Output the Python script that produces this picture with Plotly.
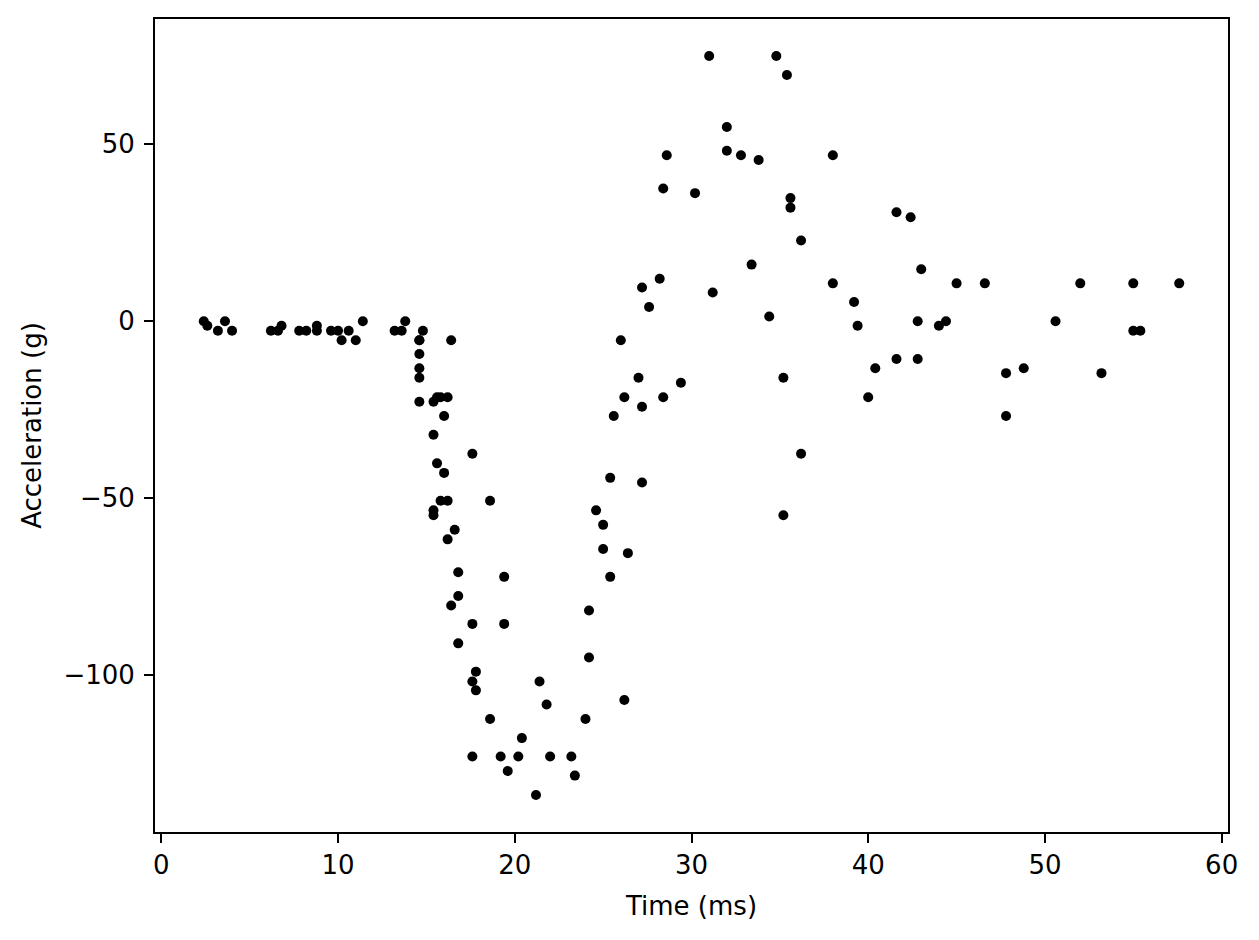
import plotly.graph_objects as go

times = [2.4, 2.6, 3.2, 3.6, 4.0, 6.2, 6.6, 6.8, 7.8, 8.2, 8.8, 8.8, 9.6, 10.0, 10.2, 10.6, 11.0, 11.4,
         13.2, 13.6, 13.8, 14.6, 14.6, 14.6, 14.6, 14.6, 14.6, 14.8, 15.4, 15.4, 15.4, 15.4, 15.6, 15.6,
         15.8, 15.8, 16.0, 16.0, 16.2, 16.2, 16.2, 16.4, 16.4, 16.6, 16.8, 16.8, 16.8, 17.6, 17.6, 17.6,
         17.6, 17.8, 17.8, 18.6, 18.6, 19.2, 19.4, 19.4, 19.6, 20.2, 20.4, 21.2, 21.4, 21.8, 22.0, 23.2,
         23.4, 24.0, 24.2, 24.2, 24.6, 25.0, 25.0, 25.4, 25.4, 25.6, 26.0, 26.2, 26.2, 26.4, 27.0, 27.2,
         27.2, 27.2, 27.6, 28.2, 28.4, 28.4, 28.6, 29.4, 30.2, 31.0, 31.2, 32.0, 32.0, 32.8, 33.4, 33.8,
         34.4, 34.8, 35.2, 35.2, 35.4, 35.6, 35.6, 36.2, 36.2, 38.0, 38.0, 39.2, 39.4, 40.0, 40.4, 41.6,
         41.6, 42.4, 42.8, 42.8, 43.0, 44.0, 44.4, 45.0, 46.6, 47.8, 47.8, 48.8, 50.6, 52.0, 53.2, 55.0,
         55.0, 55.4, 57.6]
accel = [0.0, -1.3, -2.7, 0.0, -2.7, -2.7, -2.7, -1.3, -2.7, -2.7, -1.3, -2.7, -2.7, -2.7, -5.4, -2.7,
         -5.4, 0.0, -2.7, -2.7, 0.0, -13.3, -5.4, -5.4, -9.3, -16.0, -22.8, -2.7, -22.8, -32.1, -53.5,
         -54.9, -40.2, -21.5, -21.5, -50.8, -42.9, -26.8, -21.5, -50.8, -61.7, -5.4, -80.4, -59.0, -71.0,
         -91.1, -77.7, -37.5, -85.6, -123.1, -101.9, -99.1, -104.4, -112.5, -50.8, -123.1, -85.6, -72.3,
         -127.2, -123.1, -117.9, -134.0, -101.9, -108.4, -123.1, -123.1, -128.5, -112.5, -95.1, -81.8,
         -53.5, -64.4, -57.6, -72.3, -44.3, -26.8, -5.4, -107.1, -21.5, -65.6, -16.0, -45.6, -24.2, 9.5,
         4.0, 12.0, -21.5, 37.5, 46.9, -17.4, 36.2, 75.0, 8.1, 54.9, 48.2, 46.9, 16.0, 45.6, 1.3, 75.0,
         -16.0, -54.9, 69.6, 34.8, 32.1, -37.5, 22.8, 46.9, 10.7, 5.4, -1.3, -21.5, -13.3, 30.8, -10.7,
         29.4, 0.0, -10.7, 14.7, -1.3, 0.0, 10.7, 10.7, -26.8, -14.7, -13.3, 0.0, 10.7, -14.7, -2.7, 10.7,
         -2.7, 10.7]

x_ticks = [0, 10, 20, 30, 40, 50, 60]
y_ticks = [-100, -50, 0, 50]
y_labels = ["\u2212100", "\u221250", "0", "50"]

xmin, xmax = min(times), max(times)
ymin, ymax = min(accel), max(accel)
xm = 0.05 * (xmax - xmin)
ym = 0.05 * (ymax - ymin)

fig = go.Figure(go.Scatter(
    x=times, y=accel, mode="markers",
    marker=dict(color="black", size=10, line=dict(width=0)),
))

axis_common = dict(
    showline=True, linecolor="black", linewidth=2, mirror=True,
    ticks="outside", ticklen=9, tickwidth=2, tickcolor="black",
    showgrid=False, zeroline=False,
    tickfont=dict(family="DejaVu Sans", size=26, color="black"),
)

fig.update_layout(
    width=1259, height=940,
    margin=dict(l=155, r=31, t=19, b=108),
    paper_bgcolor="white", plot_bgcolor="white",
    showlegend=False,
    font=dict(family="DejaVu Sans", size=26, color="black"),
    xaxis=dict(range=[xmin - xm, xmax + xm], tickvals=x_ticks,
               title=dict(text="Time (ms)", font=dict(size=26), standoff=18), **axis_common),
    yaxis=dict(range=[ymin - ym, ymax + ym], tickvals=y_ticks, ticktext=y_labels,
               ticklabelstandoff=4,
               title=dict(text="Acceleration (g)", font=dict(size=26), standoff=14), **axis_common),
)

fig.write_html("out.html")
